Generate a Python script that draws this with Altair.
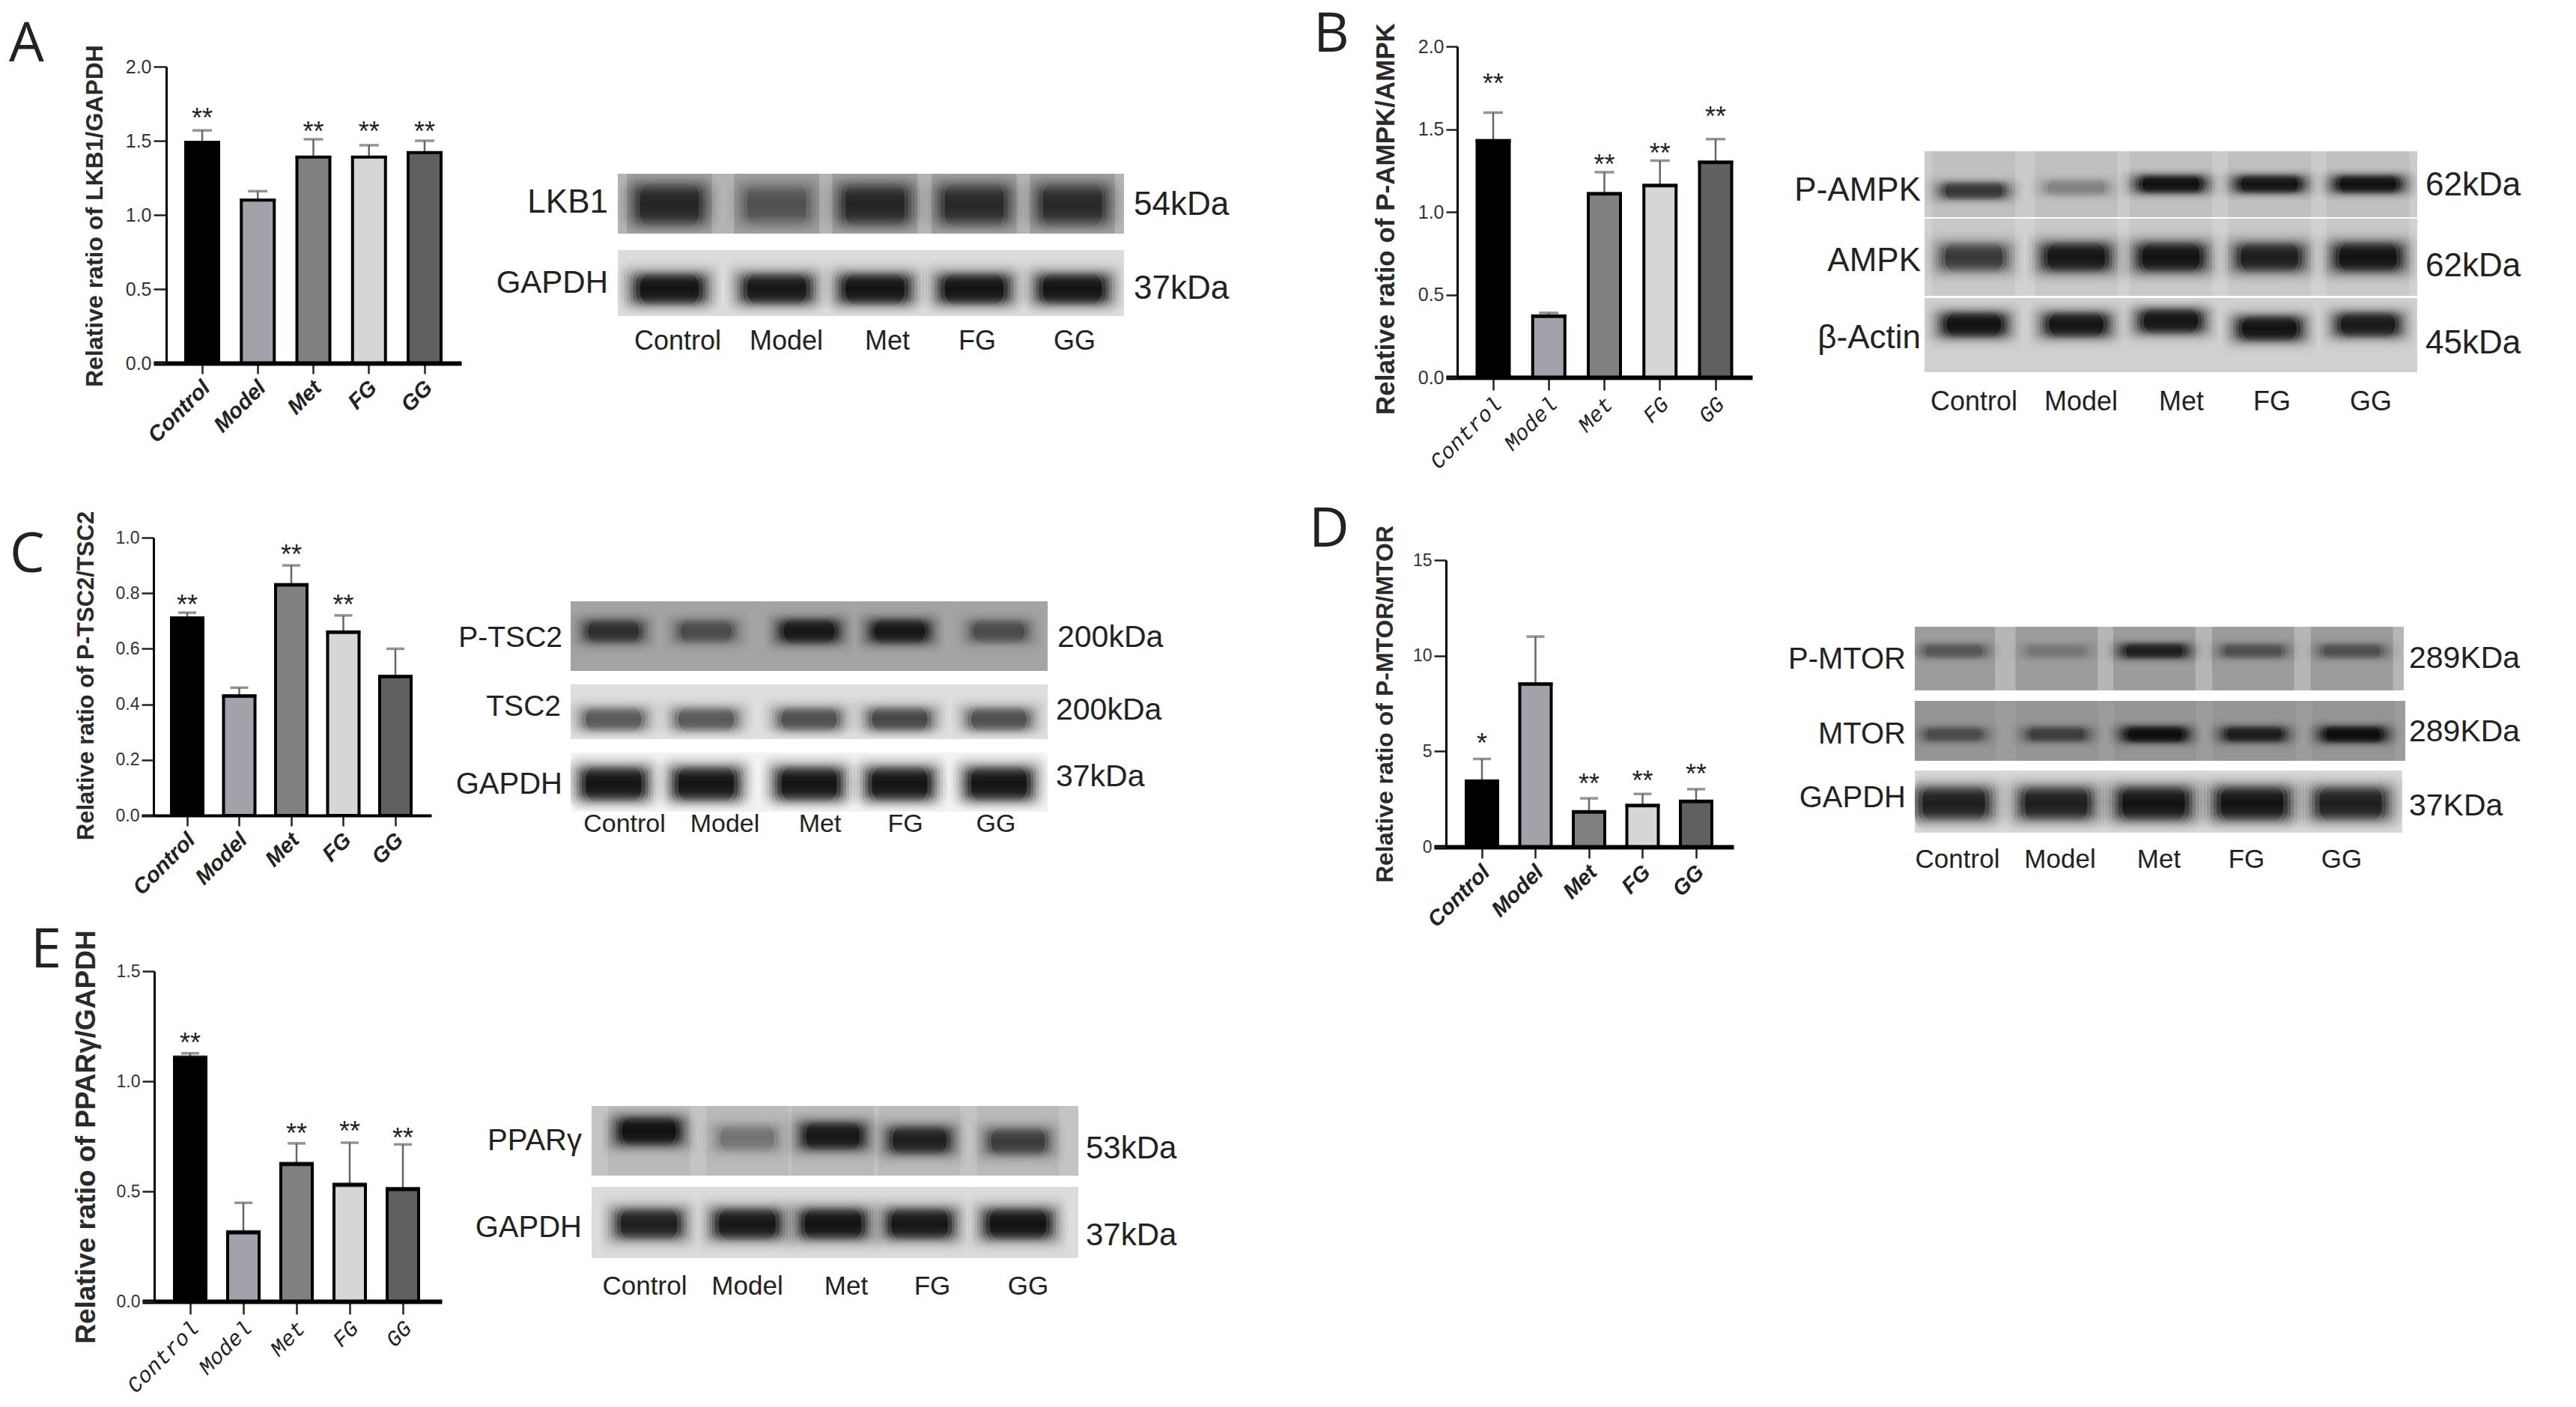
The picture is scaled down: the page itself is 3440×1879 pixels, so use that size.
import altair as alt
import pandas as pd

GROUPS = ["Control", "Model", "Met", "FG", "GG"]
BAR_COLORS = ["#000000", "#a2a2aa", "#808080", "#d6d6d6", "#606060"]

A_VALUES = [1.49, 1.10, 1.39, 1.39, 1.42]
A_ERR = [1.57, 1.16, 1.51, 1.47, 1.50]
A_STAR_AT = [1.69, 0, 1.60, 1.60, 1.60]
A_STARS = ["**", "", "**", "**", "**"]

B_VALUES = [1.43, 0.37, 1.11, 1.16, 1.30]
B_ERR = [1.60, 0.39, 1.24, 1.31, 1.44]
B_STAR_AT = [1.81, 0, 1.32, 1.39, 1.61]
B_STARS = ["**", "", "**", "**", "**"]

C_VALUES = [0.71, 0.43, 0.83, 0.66, 0.50]
C_ERR = [0.73, 0.46, 0.90, 0.72, 0.60]
C_STAR_AT = [0.78, 0, 0.96, 0.78, 0]
C_STARS = ["**", "", "**", "**", ""]

D_VALUES = [3.44, 8.52, 1.83, 2.16, 2.38]
D_ERR = [4.6, 11.0, 2.54, 2.77, 3.02]
D_STAR_AT = [5.7, 0, 3.6, 3.75, 4.1]
D_STARS = ["*", "", "**", "**", "**"]

E_VALUES = [1.107, 0.314, 0.624, 0.53, 0.51]
E_ERR = [1.127, 0.448, 0.718, 0.721, 0.713]
E_STAR_AT = [1.20, 0, 0.79, 0.80, 0.77]
E_STARS = ["**", "", "**", "**", "**"]

# Band darkness per lane, read from the blots
LKB1_A = [0.80, 0.40, 0.80, 0.75, 0.75]
GAPDH_A = [1.0, 0.95, 1.0, 1.0, 1.0]
PAMPK_B = [0.60, 0.20, 1.0, 0.95, 1.0]
AMPK_B = [0.60, 0.95, 1.0, 0.85, 1.0]
ACTIN_B = [1.0, 0.95, 0.95, 1.0, 0.90]
PTSC2_C = [0.60, 0.40, 0.85, 0.85, 0.40]
TSC2_C = [0.45, 0.45, 0.50, 0.55, 0.50]
GAPDH_C = [1.0, 1.0, 1.0, 1.0, 1.0]
PMTOR_D = [0.30, 0.15, 0.75, 0.35, 0.35]
MTOR_D = [0.35, 0.45, 1.0, 0.75, 1.0]
GAPDH_D = [0.85, 0.85, 1.0, 1.0, 0.85]
PPARG_E = [1.0, 0.25, 0.90, 0.80, 0.55]
GAPDH_E = [0.85, 0.95, 1.0, 0.95, 1.0]

LANES_A = [0.51, 1.57, 2.54, 3.52, 4.49]
LANES_B = [0.50, 1.54, 2.50, 3.50, 4.50]
LANES_C = [0.45, 1.42, 2.50, 3.45, 4.49]
LANES_D = [0.40, 1.45, 2.45, 3.46, 4.47]
LANES_E = [0.59, 1.60, 2.48, 3.37, 4.38]

W, H = 3424, 1863
OFF = 8  # page margin: reference pixel minus OFF is chart pixel

HEAVY = dict(font="Liberation Sans", weight="bold", style="italic", size=29, shift=-4)
LIGHT = dict(font="Liberation Mono", weight="normal", style="italic", size=29, shift=-3)

PANELS = [
    dict(values=A_VALUES, err=A_ERR, star_at=A_STAR_AT, stars=A_STARS, ymax=2.0, ticks=[0, 0.5, 1, 1.5, 2], fmt=".1f",
         title="Relative ratio of LKB1/GAPDH", ax=222, y0=485, top=89, dl=205, dr=616, c0=270, step=74.25, bw=44,
         tx=126, ty=288, ts=32, lab=HEAVY, base=6, tick=14, ls=25, cap=26, edge=3),
    dict(values=B_VALUES, err=B_ERR, star_at=B_STAR_AT, stars=B_STARS, ymax=2.0, ticks=[0, 0.5, 1, 1.5, 2], fmt=".1f",
         title="Relative ratio of P-AMPK/AMPK", ax=1946, y0=504, top=62, dl=1931, dr=2340, c0=1994, step=74.25, bw=43,
         tx=1850, ty=292, ts=35, lab=LIGHT, base=6, tick=17, ls=25, cap=26, edge=5),
    dict(values=C_VALUES, err=C_ERR, star_at=C_STAR_AT, stars=C_STARS, ymax=1.0, ticks=[0, 0.2, 0.4, 0.6, 0.8, 1], fmt=".1f",
         title="Relative ratio of P-TSC2/TSC2", ax=205, y0=1089, top=718, dl=189, dr=576, c0=250, step=69.5, bw=42,
         tx=115, ty=902, ts=31, lab=HEAVY, base=4, tick=14, ls=23, cap=24, edge=5),
    dict(values=D_VALUES, err=D_ERR, star_at=D_STAR_AT, stars=D_STARS, ymax=15, ticks=[0, 5, 10, 15], fmt="d",
         title="Relative ratio of P-MTOR/MTOR", ax=1931, y0=1131, top=748, dl=1915, dr=2315, c0=1979, step=71.5, bw=42,
         tx=1849, ty=940, ts=32, lab=HEAVY, base=6, tick=15, ls=23, cap=24, edge=5),
    dict(values=E_VALUES, err=E_ERR, star_at=E_STAR_AT, stars=E_STARS, ymax=1.5, ticks=[0, 0.5, 1, 1.5], fmt=".1f",
         title="Relative ratio of PPARγ/GAPDH", ax=206, y0=1738, top=1297, dl=190, dr=590, c0=254, step=71, bw=42,
         tx=115, ty=1518, ts=37, lab=LIGHT, base=6, tick=17, ls=23, cap=24, edge=6),
]

STRIPS = [
    dict(s=LKB1_A, lanes=LANES_A, xl=825, xr=1501, yt=232, yb=312, bg="#b4b4b4", smear=0.12, c=0.52, h=0.52, lw=1.0, ink=0.85),
    dict(s=GAPDH_A, lanes=LANES_A, xl=825, xr=1501, yt=334, yb=422, bg="#dcdcdc", smear=0.0, c=0.59, h=0.34, lw=1.0, ink=1.0),
    dict(s=PAMPK_B, lanes=LANES_B, xl=2570, xr=3228, yt=202, yb=290, bg="#cbcbcb", smear=0.05, c=0.50, h=0.20, lw=1.0, ink=1.0,
         dy=[0.10, 0.05, 0, 0, 0]),
    dict(s=AMPK_B, lanes=LANES_B, xl=2570, xr=3228, yt=292, yb=395, bg="#d2d2d2", smear=0.04, c=0.50, h=0.28, lw=1.0, ink=1.0),
    dict(s=ACTIN_B, lanes=LANES_B, xl=2570, xr=3228, yt=398, yb=497, bg="#d0d0d0", smear=0.0, c=0.36, h=0.25, lw=0.95, ink=1.0,
         dy=[0, 0, -0.05, 0.05, 0]),
    dict(s=PTSC2_C, lanes=LANES_C, xl=762, xr=1399, yt=803, yb=896, bg="#a4a4a4", smear=0.0, c=0.43, h=0.26, lw=0.92, ink=1.0),
    dict(s=TSC2_C, lanes=LANES_C, xl=762, xr=1399, yt=914, yb=987, bg="#dedede", smear=0.0, c=0.64, h=0.34, lw=1.0, ink=1.0),
    dict(s=GAPDH_C, lanes=LANES_C, xl=762, xr=1399, yt=1005, yb=1084, bg="#f2f2f2", smear=0.0, c=0.53, h=0.42, lw=1.0, ink=1.0),
    dict(s=PMTOR_D, lanes=LANES_D, xl=2557, xr=3210, yt=837, yb=922, bg="#b6b6b6", smear=0.14, c=0.38, h=0.18, lw=1.0, ink=1.0),
    dict(s=MTOR_D, lanes=LANES_D, xl=2557, xr=3212, yt=936, yb=1016, bg="#9c9c9c", smear=0.04, c=0.56, h=0.20, lw=0.95, ink=1.0),
    dict(s=GAPDH_D, lanes=LANES_D, xl=2557, xr=3208, yt=1029, yb=1112, bg="#d8d8d8", smear=0.0, c=0.53, h=0.40, lw=1.1, ink=1.0),
    dict(s=PPARG_E, lanes=LANES_E, xl=790, xr=1440, yt=1477, yb=1570, bg="#c4c4c4", smear=0.05, c=0.46, h=0.30, lw=0.95, ink=1.0,
         dy=[-0.10, 0, -0.03, 0.03, 0.05]),
    dict(s=GAPDH_E, lanes=LANES_E, xl=790, xr=1440, yt=1585, yb=1680, bg="#dcdcdc", smear=0.0, c=0.52, h=0.32, lw=1.0, ink=1.0),
]

LETTERS = [("A", 12, 60), ("B", 1754, 47), ("C", 13, 742), ("D", 1748, 708), ("E", 41, 1270)]

ROW_LABELS = [
    ("LKB1", 812, 271, 44), ("GAPDH", 812, 378, 42),
    ("P-AMPK", 2565, 255, 44), ("AMPK", 2565, 349, 44), ("β-Actin", 2565, 452, 44),
    ("P-TSC2", 751, 852, 39), ("TSC2", 749, 944, 39), ("GAPDH", 751, 1048, 40),
    ("P-MTOR", 2545, 881, 40), ("MTOR", 2545, 981, 40), ("GAPDH", 2545, 1066, 40),
    ("PPARγ", 777, 1524, 40), ("GAPDH", 777, 1640, 40),
]
KDA_LABELS = [
    ("54kDa", 1514, 274, 44), ("37kDa", 1514, 386, 44),
    ("62kDa", 3239, 248, 44), ("62kDa", 3239, 356, 44), ("45kDa", 3239, 459, 44),
    ("200kDa", 1412, 852, 41), ("200kDa", 1410, 949, 41), ("37kDa", 1410, 1038, 41),
    ("289KDa", 3217, 880, 41), ("289KDa", 3217, 978, 41), ("37KDa", 3217, 1077, 41),
    ("53kDa", 1450, 1534, 42), ("37kDa", 1450, 1650, 42),
]
LANE_LABELS = [
    ([905, 1050, 1185, 1305, 1435], 456, 36),
    ([2636, 2779, 2913, 3034, 3166], 537, 36),
    ([834, 968, 1095, 1209, 1330], 1101, 34),
    ([2614, 2751, 2883, 3000, 3127], 1148, 35),
    ([861, 998, 1130, 1245, 1373], 1718, 35),
]

BAND_GRADIENT = alt.LinearGradient(
    gradient="linear", x1=0, x2=0, y1=0, y2=1,
    stops=[alt.GradientStop(color="rgba(0,0,0,0)", offset=0),
           alt.GradientStop(color="rgba(0,0,0,0.85)", offset=0.3),
           alt.GradientStop(color="rgba(0,0,0,1)", offset=0.5),
           alt.GradientStop(color="rgba(0,0,0,0.85)", offset=0.7),
           alt.GradientStop(color="rgba(0,0,0,0)", offset=1)],
)
BAND_LEVELS = [(1.02, 1.5, 0.05), (0.96, 1.38, 0.07), (0.90, 1.26, 0.10), (0.84, 1.15, 0.14),
               (0.78, 1.05, 0.20), (0.72, 0.95, 0.28), (0.66, 0.85, 0.40), (0.58, 0.75, 0.65)]


def px(v):
    return v - OFF


def bar_layers(p):
    df = pd.DataFrame({"group": GROUPS, "value": p["values"], "err": p["err"],
                       "star_at": p["star_at"], "star": p["stars"]})
    rng = [px(p["dl"]), px(p["dr"])]
    span = p["dr"] - p["dl"]
    rest = span - 5 * p["step"]
    xscale = alt.Scale(type="band", domain=GROUPS, range=rng, paddingInner=0, paddingOuter=rest / 2 / p["step"],
                       align=(p["c0"] - p["step"] / 2 - p["dl"]) / rest)
    yscale = alt.Scale(domain=[0, p["ymax"]], range=[px(p["y0"]), px(p["top"])], nice=False)
    lab = p["lab"]
    xaxis = alt.Axis(title=None, orient="bottom", offset=px(p["y0"]) - H, domainWidth=p["base"], domainColor="#000000",
                     tickColor="#222222", tickWidth=2.5, tickSize=p["tick"], labelAngle=-45, labelAlign="right",
                     labelBaseline="top", labelPadding=4, labelOffset=lab["shift"], labelFont=lab["font"],
                     labelFontWeight=lab["weight"], labelFontStyle=lab["style"], labelFontSize=lab["size"],
                     labelColor="#222222", labelOverlap=False, labelBound=False, labelFlush=False, grid=False, zindex=1)
    yaxis = alt.Axis(title=p["title"], orient="left", offset=-px(p["ax"]), values=p["ticks"], format=p["fmt"],
                     domainWidth=3, domainColor="#000000", tickColor="#222222", tickWidth=2.5,
                     tickSize=p["ax"] - p["dl"], labelFont="Liberation Sans", labelFontSize=p["ls"], labelColor="#333333",
                     labelPadding=3, labelOverlap=False, labelBound=False, labelFlush=False, grid=False, zindex=1,
                     titleFont="Liberation Sans", titleFontWeight="bold", titleFontSize=p["ts"], titleColor="#2a2a2a",
                     titleX=p["tx"] - p["ax"], titleY=px(p["ty"]), titleAngle=270, titleAlign="center",
                     titleBaseline="middle")
    x_plain = alt.X("group:N", scale=xscale, axis=None)
    y_plain = alt.Y("value:Q", scale=yscale, axis=None, stack=None)
    base = alt.Chart(df)
    err = base.mark_rule(size=2.5, color="#666666").encode(
        x=x_plain, y=y_plain, y2=alt.Y2("err:Q"))
    cap = base.mark_tick(size=p["cap"], thickness=3.5, color="#666666").encode(
        x=x_plain, y=alt.Y("err:Q", scale=yscale, axis=None))
    bar = base.mark_bar(size=p["bw"], stroke="#000000", strokeWidth=4).encode(
        x=alt.X("group:N", scale=xscale, axis=xaxis),
        y=alt.Y("value:Q", scale=yscale, axis=yaxis, stack=None),
        fill=alt.Fill("group:N", scale=alt.Scale(domain=GROUPS, range=BAR_COLORS), legend=None),
    )
    top = base.mark_tick(size=p["bw"] + 4, thickness=p["edge"], color="#000000").encode(x=x_plain, y=y_plain)
    stars = base.transform_filter(alt.datum.star != "").mark_text(
        font="Liberation Sans", fontSize=36, color="#222222", baseline="middle", dy=9).encode(
        x=x_plain, y=alt.Y("star_at:Q", scale=yscale, axis=None), text="star:N")
    return [err, cap, bar, top, stars]


def strip_layers(st):
    xscale = alt.Scale(domain=[0, 5], range=[px(st["xl"]), px(st["xr"])], nice=False, zero=False, clamp=True)
    yscale = alt.Scale(domain=[0, 1], range=[px(st["yt"]), px(st["yb"])], nice=False, zero=False, clamp=True)

    def enc(chart):
        return chart.encode(
            x=alt.X("x1:Q", scale=xscale, axis=None), x2=alt.X2("x2:Q"),
            y=alt.Y("y1:Q", scale=yscale, axis=None), y2=alt.Y2("y2:Q"),
        )

    bg = enc(alt.Chart(pd.DataFrame({"x1": [0], "x2": [5], "y1": [0], "y2": [1]})).mark_rect(fill=st["bg"]))
    out = [bg]
    if st["smear"] > 0:
        rows = [{"x1": l - 0.42, "x2": l + 0.42, "y1": 0, "y2": 1} for l in st["lanes"]]
        out.append(enc(alt.Chart(pd.DataFrame(rows)).mark_rect(fill="#000000", opacity=st["smear"])))
    rows = []
    shifts = st.get("dy", [0] * 5)
    for wf, hf, af in BAND_LEVELS:
        for l, s, d in zip(st["lanes"], st["s"], shifts):
            rows.append({"x1": l - wf * st["lw"] / 2, "x2": l + wf * st["lw"] / 2,
                         "y1": st["c"] + d - hf * st["h"], "y2": st["c"] + d + hf * st["h"],
                         "alpha": s * af * st["ink"]})
    out.append(enc(alt.Chart(pd.DataFrame(rows)).mark_rect(fill=BAND_GRADIENT, cornerRadius=18)).encode(
        opacity=alt.Opacity("alpha:Q", scale=None)))
    return out


def text_layer(rows, **mark):
    df = pd.DataFrame(rows, columns=["text", "x", "y", "fs"])
    df["x"] = df["x"] - OFF
    df["y"] = df["y"] - OFF
    return alt.Chart(df).mark_text(**mark).encode(
        x=alt.X("x:Q", scale=None, axis=None), y=alt.Y("y:Q", scale=None, axis=None), text="text:N",
        size=alt.Size("fs:Q", scale=None))


layers = []
for st in STRIPS:
    layers += strip_layers(st)
for p in PANELS:
    layers += bar_layers(p)

lane_rows = []
for xs, y, fs in LANE_LABELS:
    lane_rows += [(g, x, y, fs) for g, x in zip(GROUPS, xs)]

layers.append(text_layer([(t, x, y, 74) for t, x, y in LETTERS], font="Open Sans", color="#222222",
                         align="left", baseline="middle"))
layers.append(text_layer(ROW_LABELS, font="Liberation Sans", color="#222222", align="right", baseline="middle"))
layers.append(text_layer(KDA_LABELS, font="Liberation Sans", color="#222222", align="left", baseline="middle"))
layers.append(text_layer(lane_rows, font="Liberation Sans", color="#222222", align="center", baseline="middle"))

chart = (
    alt.layer(*layers)
    .resolve_scale(x="independent", y="independent")
    .properties(width=W, height=H, padding=0, autosize="none", background="#ffffff")
    .configure_view(strokeWidth=0)
)
chart.save("out.html", embed_options={"renderer": "svg", "actions": False})
